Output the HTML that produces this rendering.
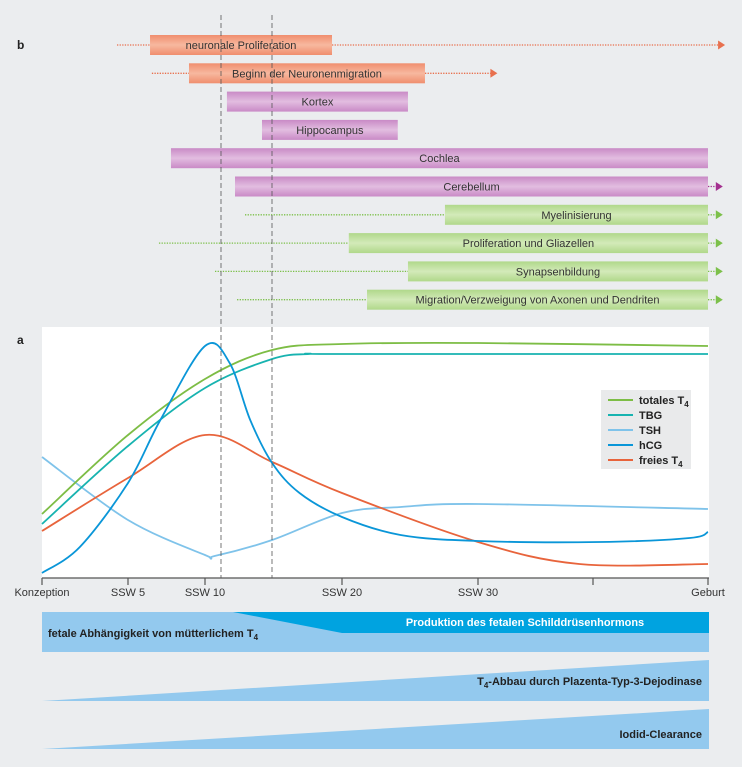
<!DOCTYPE html>
<html><head><meta charset="utf-8"><style>
html,body{margin:0;padding:0;background:#ebedef;}
svg{display:block;font-family:"Liberation Sans Narrow","Liberation Sans",sans-serif;}
</style></head><body>
<svg id="s" width="742" height="767" viewBox="0 0 742 767" xmlns="http://www.w3.org/2000/svg">
<defs>
<linearGradient id="gS" x1="0" y1="0" x2="0" y2="1"><stop offset="0" stop-color="#f08e6e"/><stop offset="0.5" stop-color="#f7b89f"/><stop offset="1" stop-color="#f08e6e"/></linearGradient>
<linearGradient id="gP" x1="0" y1="0" x2="0" y2="1"><stop offset="0" stop-color="#c98ac6"/><stop offset="0.5" stop-color="#e2bde0"/><stop offset="1" stop-color="#c98ac6"/></linearGradient>
<linearGradient id="gG" x1="0" y1="0" x2="0" y2="1"><stop offset="0" stop-color="#b0d88a"/><stop offset="0.5" stop-color="#d3eab9"/><stop offset="1" stop-color="#b0d88a"/></linearGradient>
</defs>
<text x="17" y="49" font-size="12" font-weight="bold" fill="#222">b</text>
<text x="17" y="344" font-size="12" font-weight="bold" fill="#222">a</text>
<rect x="42" y="327" width="667" height="251" fill="#fff"/>
<g id="bars"></g>
<g id="lines"></g>
<g id="axis"></g>
<line x1="221" y1="15" x2="221" y2="578" stroke="#555" stroke-width="0.8" stroke-dasharray="5,3"/>
<line x1="272" y1="15" x2="272" y2="578" stroke="#555" stroke-width="0.8" stroke-dasharray="5,3"/>
<g id="legend"><rect x="601" y="390" width="90" height="79" fill="#e9eaeb"/></g>
<g>
<rect x="42" y="612" width="667" height="40" fill="#93c9ee"/>
<polygon points="233,612 709,612 709,633 342,633" fill="#00a3e0"/>
<text x="525" y="626" font-size="11" font-weight="bold" fill="#fff" text-anchor="middle">Produktion des fetalen Schilddrüsenhormons</text>
<text x="48" y="637" font-size="11" font-weight="bold" fill="#222">fetale Abhängigkeit von mütterlichem T<tspan font-size="8" dy="3">4</tspan></text>
<polygon points="42,701 709,660 709,701" fill="#93c9ee"/>
<text x="702" y="685" font-size="11" font-weight="bold" fill="#222" text-anchor="end">T<tspan font-size="8" dy="3">4</tspan><tspan dy="-3">-Abbau durch Plazenta-Typ-3-Dejodinase</tspan></text>
<polygon points="42,749 709,709 709,749" fill="#93c9ee"/>
<text x="702" y="738" font-size="11" font-weight="bold" fill="#222" text-anchor="end">Iodid-Clearance</text>
</g>
</svg>
<script>
var NS="http://www.w3.org/2000/svg";
// axis ticks (weeks)
var tickWeeks=[0,5,10,20,30,35,40];
var tickLabels=["Konzeption","SSW 5","SSW 10","SSW 20","SSW 30","","Geburt"];
var tickPix=[42,128,205,342,478,593,708];
// bars (weeks)
var barNames=["neuronale Proliferation","Beginn der Neuronenmigration","Kortex","Hippocampus","Cochlea","Cerebellum","Myelinisierung","Proliferation und Gliazellen","Synapsenbildung","Migration/Verzweigung von Axonen und Dendriten"];
var barKinds=["S","S","P","P","P","P","G","G","G","G"];
var barStart=[6.43,8.96,11.6,14.16,7.79,12.19,27.57,20.5,24.85,21.84];
var barEnd=[19.27,26.1,24.85,24.1,40,40,40,40,40,40];
var dotStart=[4.36,6.55,null,null,null,null,12.92,7.01,10.73,12.34];
var dotEnd=[40.7,30.8,null,null,null,40.6,40.6,40.6,40.6,40.6];
// series [week,value]
var seriesNames=["totales T4","TBG","TSH","hCG","freies T4"];
var seriesColors=["#7dbd45","#17b3b0","#7fc3ea","#0a96d8","#e8643c"];
var totalT4=[[0,64],[5,143],[10,199],[14.9,228],[20,234],[30,235],[40,232]];
var tbg=[[0,54],[5,132],[10,190],[14.9,219],[17.6,224],[20,224],[40,224]];
var tsh=[[0,121],[5,58],[10,23],[10.7,22],[14.9,38],[20,65],[24.3,71],[30,74],[40,69]];
var hcg=[[0,5],[2.2,31],[5,95],[7.1,158],[10,232],[11.8,215],[13.3,158],[14.9,115],[16.9,85],[20,61],[24.3,43],[30,37],[35.3,36],[39.2,40],[40,46]];
var freeT4=[[0,47],[5,100],[10,143],[14.9,116],[20,85],[30,36],[34.4,14],[40,14]];
var allSeries=[totalT4,tbg,tsh,hcg,freeT4];

function xs(w){for(var i=0;i<tickWeeks.length-1;i++){if(w<=tickWeeks[i+1]||i==tickWeeks.length-2){var t=(w-tickWeeks[i])/(tickWeeks[i+1]-tickWeeks[i]);return tickPix[i]+t*(tickPix[i+1]-tickPix[i]);}}}
function ys(v){return 578-v;}
function mk(t,a,p){var e=document.createElementNS(NS,t);for(var k in a)e.setAttribute(k,a[k]);(p||document.getElementById('s')).appendChild(e);return e;}

var ax=document.getElementById('axis');
var al=mk('line',{x1:42,y1:578,x2:709,y2:578,stroke:'#555','stroke-width':1.2},ax);


tickWeeks.forEach(function(w,i){
  var l=mk('line',{x1:xs(w),y1:578,x2:xs(w),y2:585,stroke:'#555','stroke-width':1.2},ax);
  
  
  if(tickLabels[i]){var t=mk('text',{x:xs(w),y:596,'font-size':11,'text-anchor':'middle',fill:'#333'},ax);t.textContent=tickLabels[i];
  
  }
});

var fills={S:'url(#gS)',P:'url(#gP)',G:'url(#gG)'};
var dotc={S:'#e8704e',P:'#a3308f',G:'#7cc04a'};
var bg=document.getElementById('bars');
barNames.forEach(function(n,i){
  var cy=45+i*28.3, k=barKinds[i];
  if(dotStart[i]!=null){var d=mk('line',{x1:xs(dotStart[i]),y1:cy,x2:xs(barStart[i]),y2:cy,stroke:dotc[k],'stroke-width':1.3,'stroke-dasharray':'1.3,1.3'},bg);
    
    }
  if(dotEnd[i]!=null){var e=xs(dotEnd[i]);var d2=mk('line',{x1:xs(barEnd[i]),y1:cy,x2:e-5,y2:cy,stroke:dotc[k],'stroke-width':1.3,'stroke-dasharray':'1.3,1.3'},bg);
    
    
    var ar=mk('polygon',{points:(e-6)+','+(cy-4.5)+' '+(e+1)+','+cy+' '+(e-6)+','+(cy+4.5),fill:dotc[k]},bg);
    
    }
  var x1=xs(barStart[i]),x2=xs(barEnd[i]);
  var r=mk('rect',{x:x1,y:cy-10,width:x2-x1,height:20,fill:fills[k]},bg);
  
  
  var t=mk('text',{x:(x1+x2)/2,y:cy+4,'font-size':11,'text-anchor':'middle',fill:'#333'},bg);t.textContent=n;
  
  
});

function path(pts){var p=pts.map(function(d){return[xs(d[0]),ys(d[1])];});var s='M'+p[0][0]+','+p[0][1];
  for(var i=0;i<p.length-1;i++){var p0=p[i-1]||p[i],p1=p[i],p2=p[i+1],p3=p[i+2]||p2;
    s+=' C'+(p1[0]+(p2[0]-p0[0])/6)+','+(p1[1]+(p2[1]-p0[1])/6)+' '+(p2[0]-(p3[0]-p1[0])/6)+','+(p2[1]-(p3[1]-p1[1])/6)+' '+p2[0]+','+p2[1];}
  return s;}
var lg=document.getElementById('lines');
var order=[2,4,1,0,3];
order.forEach(function(i){var pa=mk('path',{d:path(allSeries[i]),fill:'none',stroke:seriesColors[i],'stroke-width':1.8},lg);
  
  });

var leg=document.getElementById('legend');
seriesNames.forEach(function(n,i){var y=400+i*15;
  var l=mk('line',{x1:608,y1:y,x2:633,y2:y,stroke:seriesColors[i],'stroke-width':2},leg);
  
  
  var t=mk('text',{x:639,y:y+4,'font-size':11,'font-weight':'bold',fill:'#222'},leg);
  if(n.slice(-2)=='T4'){t.textContent=n.slice(0,-1);var ts=mk('tspan',{'font-size':8,dy:3},t);ts.textContent='4';}else t.textContent=n;
  
  
});
</script>
</body></html>
